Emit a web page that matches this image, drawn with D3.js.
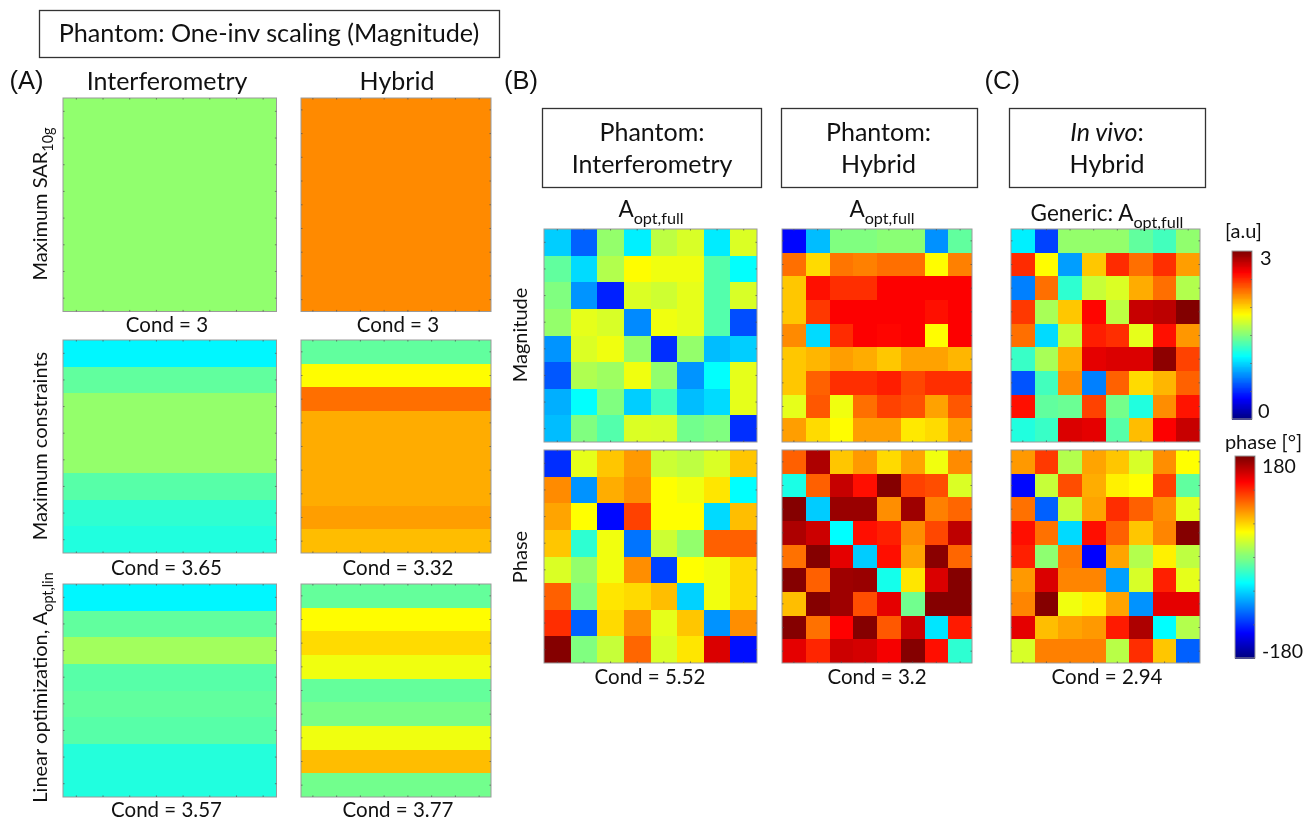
<!DOCTYPE html>
<html><head><meta charset="utf-8">
<style>html,body{margin:0;padding:0;background:#fff}svg{display:block;filter:blur(.45px)}text{font-family:Lato,"Open Sans",sans-serif;fill:#111}</style>
<script src="https://cdn.jsdelivr.net/npm/d3@7/dist/d3.min.js"></script>
</head><body><svg id="c" width="1311" height="821"></svg>
<script>
// ---- data: panel A (row values, magnitude a.u.)
const sarInterf=[1.55,1.55,1.55,1.55,1.55,1.55,1.55,1.55];
const sarHybrid=[2.22,2.22,2.22,2.22,2.22,2.22,2.22,2.22,2.22];
const consInterf=[1.1,1.41,1.56,1.56,1.56,1.38,1.26,1.22];
const consHybrid=[1.41,1.88,2.3,2.12,2.12,2.12,2.12,2.16,2.07];
const linInterf=[1.1,1.41,1.6,1.38,1.41,1.38,1.23,1.22];
const linHybrid=[1.42,1.88,1.98,1.83,1.42,1.48,1.83,2.07,1.46];
// ---- data: panels B, C
const magInterf=[
[.98,.66,1.56,1.08,1.68,1.76,1.07,1.77],
[1.41,1.02,1.65,1.88,1.83,1.83,1.37,1.13],
[1.5,.81,.47,1.77,1.73,1.8,1.37,1.76],
[1.56,1.8,1.76,.78,1.83,1.8,1.37,.6],
[.81,1.77,1.83,1.56,.51,1.56,.93,.98],
[.63,1.64,1.59,1.83,1.55,.81,1.13,1.8],
[.89,1.13,1.5,.98,1.32,.93,1.02,1.8],
[.93,1.5,1.37,1.77,1.76,1.46,1.5,.51]];
const magHybrid=[
[.39,.93,1.5,1.5,1.53,1.53,.8,1.41],
[2.3,1.98,2.28,2.25,2.3,2.3,1.88,2.25],
[2.04,2.58,2.49,2.49,2.63,2.63,2.63,2.63],
[2.04,2.46,2.63,2.63,2.63,2.63,2.58,2.63],
[2.22,1.02,2.5,2.63,2.61,2.63,1.88,2.63],
[2.04,2.09,2.16,2.12,2.04,2.15,2.15,2.09],
[2.04,2.34,2.49,2.49,2.54,2.42,2.49,2.49],
[1.8,2.37,1.83,2.3,2.43,2.39,2.15,2.37],
[2.16,1.98,1.88,2.16,2.16,1.94,1.98,2.16]];
const magVivo=[
[1.08,.57,1.56,1.56,1.56,1.41,1.32,1.55],
[2.5,1.88,.84,2.04,2.5,2.3,2.49,2.16],
[.75,2.3,1.26,1.71,1.77,2.12,2.3,1.65],
[2.46,1.62,2.04,2.61,1.68,2.79,2.82,2.99],
[2.3,1.02,1.71,2.54,2.49,1.8,2.58,2.18],
[1.29,1.62,2.12,2.7,2.73,2.73,2.96,2.43],
[.62,1.32,2.21,.75,2.34,1.98,2.09,2.34],
[2.58,1.41,1.44,2.43,1.47,1.22,2.21,2.57],
[1.22,1.29,2.73,2.7,1.38,2.07,2.63,2.79]];
const phaseInterf=[
[-119,36,65,81,27,22,32,65],
[86,-83,74,85,45,40,54,-45],
[77,45,-133,112,45,45,-58,68],
[65,-29,40,-94,27,7,101,101],
[32,7,40,85,-112,45,40,58],
[101,0,54,58,68,-61,40,58],
[119,-101,58,85,36,65,-83,85],
[178,0,25,99,32,54,148,-130]];
const phaseHybrid=[
[101,164,65,81,58,77,40,86],
[-36,101,155,130,178,112,108,32],
[178,-63,171,171,85,169,90,99],
[164,153,-45,130,124,85,110,158],
[95,178,144,-63,130,77,176,99],
[178,101,169,171,-38,54,148,178],
[68,178,169,108,144,-5,178,178],
[178,95,135,178,104,153,-54,126],
[144,122,153,150,138,178,130,-29]];
const phaseVivo=[
[81,115,18,77,65,31,85,45],
[-133,25,108,74,50,45,112,-11],
[95,-101,25,77,119,101,85,36],
[130,95,-58,130,101,65,88,178],
[124,5,92,-135,77,18,50,22],
[81,148,88,88,-79,31,124,36],
[88,178,40,50,77,-83,144,144],
[144,68,77,81,126,164,-45,18],
[31,90,90,90,20,119,65,-101]];
const jetStops=[0,.125,.375,.625,.875,1];
const jetColors=["#00007f","#0000ff","#00ffff","#ffff00","#ff0000","#7f0000"];
const magDomain=[0,3], phaseDomain=[-180,180];
const magTicks=[0,.5,1,1.5,2,2.5,3], phaseTicks=[-180,-120,-60,0,60,120,180];

// ---- layout
const svg=d3.select("#c");
const jet=(dom)=>d3.scaleLinear().domain(jetStops.map(s=>dom[0]+s*(dom[1]-dom[0]))).range(jetColors).clamp(true);
const magC=jet(magDomain), phC=jet(phaseDomain);
const BORDER="#9a9a9a";

function ticks(g,xS,yS,w,h){
  const mk=(ax,tr)=>{const a=g.append("g").attr("transform",tr).call(ax);
    a.select(".domain").remove();a.selectAll("line").attr("stroke","#555").attr("stroke-width",.7);a.selectAll("text").remove();};
  mk(d3.axisBottom(xS).tickSizeOuter(0).tickSizeInner(-1.6),`translate(0,${h})`);
  mk(d3.axisTop(xS).tickSizeOuter(0).tickSizeInner(-1.6),`translate(0,0)`);
  mk(d3.axisLeft(yS).tickSizeOuter(0).tickSizeInner(-1.6),`translate(0,0)`);
  mk(d3.axisRight(yS).tickSizeOuter(0).tickSizeInner(-1.6),`translate(${w},0)`);
}
function matrix(x0,y0,x1,y1,rows,color){
  const w=x1-x0,h=y1-y0,g=svg.append("g").attr("transform",`translate(${x0},${y0})`);
  const nc=rows[0].length;
  const xS=d3.scaleBand().domain(d3.range(nc)).range([0,w]);
  const yS=d3.scaleBand().domain(d3.range(rows.length)).range([0,h]);
  rows.forEach((r,i)=>g.selectAll(null).data(r).enter().append("rect")
    .attr("x",(d,j)=>xS(j)).attr("y",yS(i)).attr("width",xS.bandwidth()).attr("height",yS.bandwidth())
    .attr("shape-rendering","crispEdges").attr("fill",d=>color(d)));
  g.append("rect").attr("width",w).attr("height",h).attr("fill","none").attr("stroke",BORDER).attr("stroke-width",1);
  ticks(g,xS,yS,w,h);
}
const bars=(vals,n)=>vals.map(v=>d3.range(n).map(()=>v));
const LA=[63,276.5], RA=[301,491];
const A1=[98,311.5],A2=[340,553],A3=[584,797];
matrix(LA[0],A1[0],LA[1],A1[1],bars(sarInterf,8),magC);
matrix(RA[0],A1[0],RA[1],A1[1],bars(sarHybrid,8),magC);
matrix(LA[0],A2[0],LA[1],A2[1],bars(consInterf,8),magC);
matrix(RA[0],A2[0],RA[1],A2[1],bars(consHybrid,8),magC);
matrix(LA[0],A3[0],LA[1],A3[1],bars(linInterf,8),magC);
matrix(RA[0],A3[0],RA[1],A3[1],bars(linHybrid,8),magC);
const BM=[229,442],BP=[450,663];
matrix(544,BM[0],757,BM[1],magInterf,magC);
matrix(782,BM[0],972,BM[1],magHybrid,magC);
matrix(1011,BM[0],1200,BM[1],magVivo,magC);
matrix(544,BP[0],757,BP[1],phaseInterf,phC);
matrix(782,BP[0],972,BP[1],phaseHybrid,phC);
matrix(1011,BP[0],1200,BP[1],phaseVivo,phC);

function colorbar(x0,x1,y0,y1,dom,tv,col){
  const y=d3.scaleLinear().domain(dom).range([y1,y0]);
  const g=svg.append("g");
  const n=200,st=(dom[1]-dom[0])/n;
  g.selectAll(null).data(d3.range(n)).enter().append("rect")
   .attr("x",x0).attr("width",x1-x0)
   .attr("y",i=>y(dom[0]+(i+1)*st)).attr("height",(y1-y0)/n+.5)
   .attr("shape-rendering","crispEdges")
   .attr("fill",i=>col(dom[0]+(i+.5)*st));
  g.append("rect").attr("x",x0).attr("y",y0).attr("width",x1-x0).attr("height",y1-y0).attr("fill","none").attr("stroke",BORDER);
  const a=svg.append("g").attr("transform",`translate(${x1},0)`).call(d3.axisRight(y).tickValues(tv).tickSizeOuter(0).tickSizeInner(-2));
  a.select(".domain").remove();a.selectAll("text").remove();a.selectAll("line").attr("stroke","#666").attr("stroke-width",.7);
}
colorbar(1232,1252,251,419,magDomain,magTicks,magC);
colorbar(1235,1255,456,658,phaseDomain,phaseTicks,phC);

// ---- text
function T(x,y,s,fs,anchor="middle",rot=0,fam=null){
  const t=svg.append("text").attr("font-size",fs).attr("text-anchor",anchor)
    .attr("transform",`translate(${x},${y}) rotate(${rot})`);
  if(fam) t.style("font-family",fam);
  if(typeof s==="string") t.text(s);
  else s.forEach(p=>{const ts=t.append("tspan").text(p.t);
    if(p.i) ts.attr("font-style","italic");
    if(p.sub){ts.attr("font-size",fs*.72).attr("dy",fs*.3);}
  });
  return t;
}
function box(x,y,w,h){svg.append("rect").attr("x",x).attr("y",y).attr("width",w).attr("height",h).attr("fill","none").attr("stroke","#333").attr("stroke-width",1.3);}
box(39.5,10.5,460,47);
T(269,42,"Phantom: One-inv scaling (Magnitude)",25.2);
const ARIAL='"Liberation Sans",Arial,sans-serif';
T(9.5,89,"(A)",25.5,"start",0,ARIAL);T(504,89,"(B)",25.5,"start",0,ARIAL);T(984.5,89,"(C)",25.5,"start",0,ARIAL);
T(167,90,"Interferometry",25);T(397,90,"Hybrid",25);
box(542.5,108.5,219,79);box(781.5,108.5,196,79);box(1009.5,108.5,196,79);
T(652,141,"Phantom:",25);T(652,173,"Interferometry",25);
T(878.5,141,"Phantom:",25);T(878.5,173,"Hybrid",25);
T(1107,141,[{t:"In vivo",i:1},{t:":"}],25);T(1107,173,"Hybrid",25);
T(651,217,[{t:"A"},{t:"opt,full",sub:1}],22.5);
T(882,217,[{t:"A"},{t:"opt,full",sub:1}],22.5);
T(1107,221,[{t:"Generic: A"},{t:"opt,full",sub:1}],22.5);
[[167,332,"Cond = 3"],[398,332,"Cond = 3"],[166.5,575,"Cond = 3.65"],[398,575,"Cond = 3.32"],
 [166.5,817,"Cond = 3.57"],[398,817,"Cond = 3.77"],[650,684,"Cond = 5.52"],[877,684,"Cond = 3.2"],[1107,684,"Cond = 2.94"]]
 .forEach(d=>T(d[0],d[1],d[2],20.5));
T(47,204,[{t:"Maximum SAR"},{t:"10g",sub:1}],20,"middle",-90);
T(47,446,"Maximum constraints",20,"middle",-90);
T(47,687.5,[{t:"Linear optimization, A"},{t:"opt,lin",sub:1}],20,"middle",-90);
T(527,335,"Magnitude",20,"middle",-90);
T(527,557,"Phase",20,"middle",-90);
T(1243.5,238,"[a.u]",20);
T(1260,265,"3",20,"start");T(1258,418,"0",20,"start");
T(1263.5,449,"phase [°]",20);
T(1262,473,"180",19.5,"start");T(1262,658,"-180",19.5,"start");
</script></body></html>
